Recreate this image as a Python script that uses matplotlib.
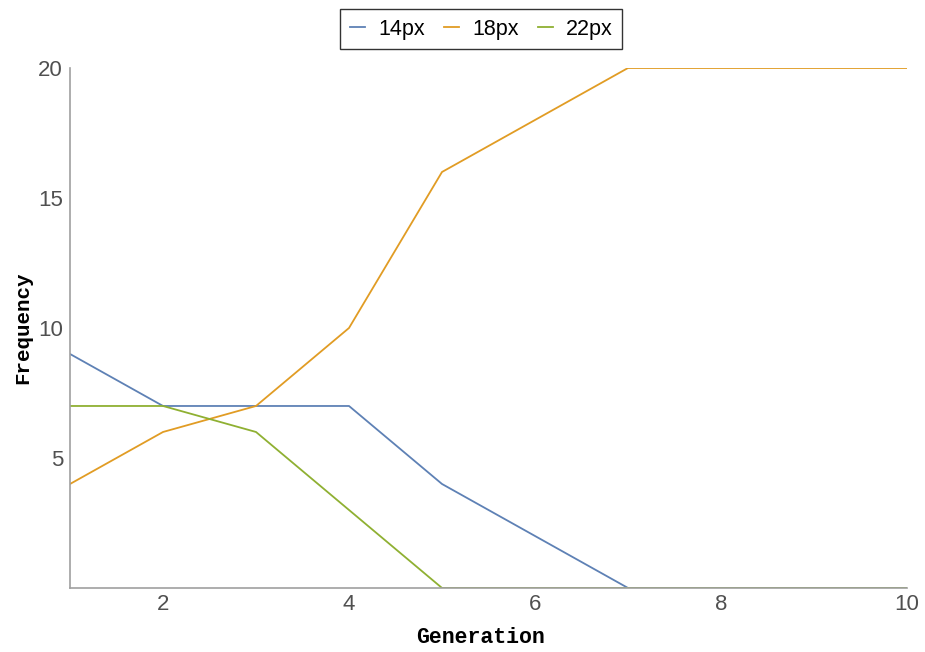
import numpy as np
import matplotlib
matplotlib.use('Agg')
import matplotlib.pyplot as plt

# Dados
generations = [1, 2, 3, 4, 5, 6, 7, 8, 9, 10]
freq_14px = [9, 7, 7, 7, 4, 2, 0, 0, 0, 0]
freq_18px = [4, 6, 7, 10, 16, 18, 20, 20, 20, 20]
freq_22px = [7, 7, 6, 3, 0, 0, 0, 0, 0, 0]
series_labels = ['14px', '18px', '22px']
series_colors = ['#5E81B5', '#E19C24', '#8FB032']

x_ticks = [2, 4, 6, 8, 10]
y_ticks = [5, 10, 15, 20]

fig = plt.figure(figsize=(9.25, 6.52), dpi=100)
ax = fig.add_axes([0.0757, 0.0982, 0.9048, 0.7975])

for values, label, color in zip([freq_14px, freq_18px, freq_22px], series_labels, series_colors):
    ax.plot(generations, values, color=color, linewidth=1.3, label=label)

ax.set_xlim(1, 10)
ax.set_ylim(0, 20)
ax.set_xticks(x_ticks)
ax.set_yticks(y_ticks)
ax.tick_params(length=0, labelsize=16, labelcolor='#505050')
ax.tick_params(axis='x', pad=4)
ax.tick_params(axis='y', pad=5)
for lab in ax.get_xticklabels() + ax.get_yticklabels():
    lab.set_family('Liberation Sans')

for side in ['top', 'right']:
    ax.spines[side].set_visible(False)
for side in ['left', 'bottom']:
    ax.spines[side].set_color('#A0A0A0')
    ax.spines[side].set_linewidth(1.2)

ax.set_xlabel('Generation', family='Liberation Mono', fontweight='bold', fontsize=15.5)
ax.xaxis.set_label_coords(0.491, -0.075)
ax.set_ylabel('Frequency', family='Liberation Mono', fontweight='bold', fontsize=15, labelpad=4)

leg = fig.legend(loc='center', bbox_to_anchor=(0.5205, 0.9555), ncol=3, frameon=True, fancybox=False,
                 prop={'family': 'Liberation Sans', 'size': 15.5}, handlelength=0.7,
                 columnspacing=0.9, handletextpad=0.6, borderpad=0.45)
leg.get_frame().set_edgecolor('black')
leg.get_frame().set_linewidth(1.0)

fig.savefig('out.png', dpi=100)
